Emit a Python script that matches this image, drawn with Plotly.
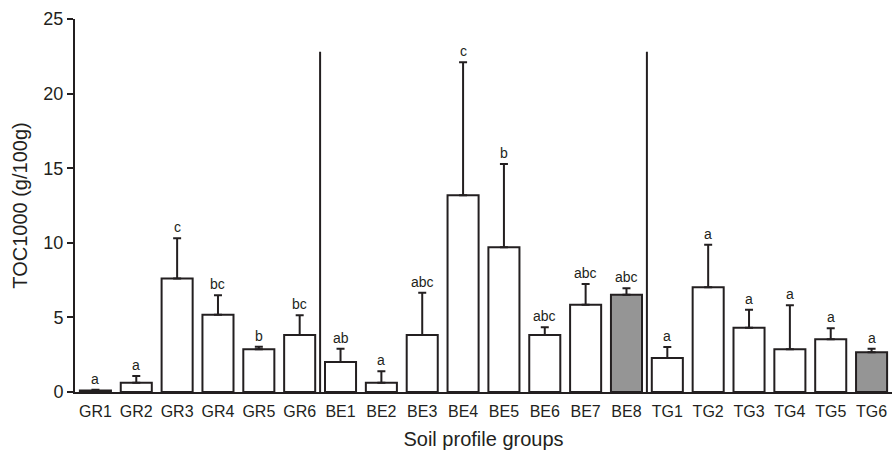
import plotly.graph_objects as go

# ---- data ----
groups = ["GR", "BE", "TG"]
group_sizes = [6, 8, 6]
categories = ["GR1", "GR2", "GR3", "GR4", "GR5", "GR6",
              "BE1", "BE2", "BE3", "BE4", "BE5", "BE6", "BE7", "BE8",
              "TG1", "TG2", "TG3", "TG4", "TG5", "TG6"]
means = [0.1, 0.62, 7.6, 5.18, 2.86, 3.82,
         2.01, 0.62, 3.82, 13.18, 9.7, 3.82, 5.85, 6.52,
         2.28, 7.02, 4.31, 2.86, 3.53, 2.66]
errors = [0.05, 0.45, 2.7, 1.3, 0.18, 1.32,
          0.89, 0.77, 2.84, 8.92, 5.58, 0.52, 1.39, 0.43,
          0.74, 2.85, 1.21, 2.95, 0.74, 0.24]
letters = ["a", "a", "c", "bc", "b", "bc",
           "ab", "a", "abc", "c", "b", "abc", "abc", "abc",
           "a", "a", "a", "a", "a", "a"]
shaded = ["BE8", "TG6"]
separator_top = 22.8

# ---- figure ----
ink = "#231f20"
fills = ["#959595" if c in shaded else "white" for c in categories]

fig = go.Figure()
fig.add_trace(go.Bar(
    x=categories, y=means, width=0.76,
    marker=dict(color=fills, line=dict(color=ink, width=2)),
    error_y=dict(type="data", symmetric=False, array=errors,
                 arrayminus=[0] * len(errors),
                 color=ink, thickness=2, width=4),
    showlegend=False,
))

for c, m, e, t in zip(categories, means, errors, letters):
    fig.add_annotation(x=c, y=m + e, text=t, showarrow=False,
                       yanchor="bottom", yshift=1,
                       font=dict(size=14, color=ink))

# separators between groups
pos = -0.5
for s in group_sizes[:-1]:
    pos += s
    fig.add_shape(type="line", xref="x", yref="y",
                  x0=pos, x1=pos, y0=-0.55, y1=separator_top,
                  line=dict(color=ink, width=2))

font_family = "Liberation Sans, Arial, Helvetica, sans-serif"
fig.update_layout(
    width=893, height=450,
    margin=dict(l=75, r=1, t=19, b=58),
    plot_bgcolor="white", paper_bgcolor="white",
    font=dict(family=font_family, color=ink),
    xaxis=dict(
        type="category", range=[-0.5, len(categories) - 0.5],
        showline=True, linecolor=ink, linewidth=2,
        ticks="", showgrid=False, zeroline=False,
        tickfont=dict(size=16, color=ink), ticklabelstandoff=4,
        title=dict(text="Soil profile groups", font=dict(size=20, color=ink), standoff=15),
    ),
    yaxis=dict(
        range=[0, 25], tickvals=[0, 5, 10, 15, 20, 25],
        showline=True, linecolor=ink, linewidth=2,
        ticks="outside", ticklen=6, tickwidth=2, tickcolor=ink,
        showgrid=False, zeroline=False,
        tickfont=dict(size=18, color=ink),
        title=dict(text="TOC1000 (g/100g)", font=dict(size=20, color=ink), standoff=10),
    ),
)

fig.write_html("out.html",
               config={"displayModeBar": False},
               post_script="document.body.style.margin='0px';document.body.style.overflow='hidden';")
